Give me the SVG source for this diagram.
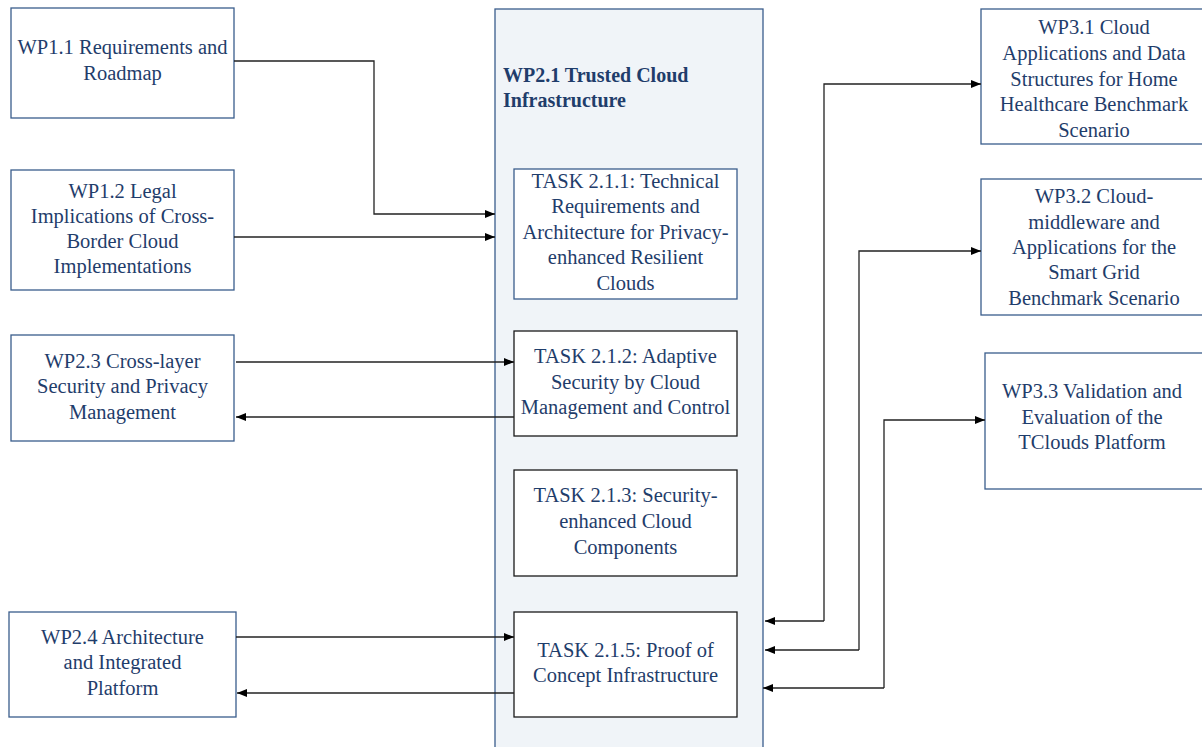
<svg xmlns="http://www.w3.org/2000/svg" width="1202" height="747" viewBox="0 0 1202 747">
<style>
.box{fill:#ffffff;stroke:#3a5d8c;stroke-width:1.3}
.task{fill:#ffffff;stroke:#1a1a1a;stroke-width:1.3}
.t{font-family:"Liberation Serif","Times New Roman",serif;font-size:20.5px;fill:#1f3d6b;text-anchor:middle}
.title{font-family:"Liberation Serif","Times New Roman",serif;font-size:20px;font-weight:bold;fill:#1f3d6b}
.c{fill:none;stroke:#222;stroke-width:1.3}
</style>
<defs>
<marker id="ah" viewBox="0 0 10 8" refX="10" refY="4" markerWidth="10" markerHeight="8" markerUnits="userSpaceOnUse" orient="auto">
<path d="M0,0 L10,4 L0,8 z" fill="#000"/>
</marker>
</defs>
<rect width="1202" height="747" fill="#ffffff"/>
<g id="wp21">
<rect x="495" y="9" width="268" height="750" fill="#f0f4f8" stroke="#3a5d8c" stroke-width="1.3"/>
<text class="title" x="503" y="82">WP2.1 Trusted Cloud</text>
<text class="title" x="503" y="107">Infrastructure</text>
</g>
<g id="wp11">
<rect class="box" x="11" y="8" width="223" height="110"/>
<text class="t" x="122.5" y="54">WP1.1 Requirements and</text>
<text class="t" x="122.5" y="80">Roadmap</text>
</g>
<g id="wp12">
<rect class="box" x="11" y="170" width="223" height="120"/>
<text class="t" x="122.5" y="198">WP1.2 Legal</text>
<text class="t" x="122.5" y="223">Implications of Cross-</text>
<text class="t" x="122.5" y="248">Border Cloud</text>
<text class="t" x="122.5" y="273">Implementations</text>
</g>
<g id="wp23">
<rect class="box" x="11" y="335" width="223" height="106"/>
<text class="t" x="122.5" y="368">WP2.3 Cross-layer</text>
<text class="t" x="122.5" y="393">Security and Privacy</text>
<text class="t" x="122.5" y="419">Management</text>
</g>
<g id="wp24">
<rect class="box" x="9" y="612" width="227" height="105"/>
<text class="t" x="122.5" y="644">WP2.4 Architecture</text>
<text class="t" x="122.5" y="669">and Integrated</text>
<text class="t" x="122.5" y="695">Platform</text>
</g>
<g id="task211">
<rect class="box" x="514" y="169" width="223" height="130"/>
<text class="t" x="625.5" y="188">TASK 2.1.1: Technical</text>
<text class="t" x="625.5" y="213">Requirements and</text>
<text class="t" x="625.5" y="239">Architecture for Privacy-</text>
<text class="t" x="625.5" y="264">enhanced Resilient</text>
<text class="t" x="625.5" y="290">Clouds</text>
</g>
<g id="task212">
<rect class="task" x="514" y="331" width="223" height="105"/>
<text class="t" x="625.5" y="363">TASK 2.1.2: Adaptive</text>
<text class="t" x="625.5" y="389">Security by Cloud</text>
<text class="t" x="625.5" y="414">Management and Control</text>
</g>
<g id="task213">
<rect class="task" x="514" y="470" width="223" height="106"/>
<text class="t" x="625.5" y="502">TASK 2.1.3: Security-</text>
<text class="t" x="625.5" y="528">enhanced Cloud</text>
<text class="t" x="625.5" y="554">Components</text>
</g>
<g id="task215">
<rect class="task" x="514" y="612" width="223" height="105"/>
<text class="t" x="625.5" y="657">TASK 2.1.5: Proof of</text>
<text class="t" x="625.5" y="682">Concept Infrastructure</text>
</g>
<g id="wp31">
<rect class="box" x="981" y="9" width="228" height="135"/>
<text class="t" x="1094" y="34">WP3.1 Cloud</text>
<text class="t" x="1094" y="60">Applications and Data</text>
<text class="t" x="1094" y="86">Structures for Home</text>
<text class="t" x="1094" y="111">Healthcare Benchmark</text>
<text class="t" x="1094" y="137">Scenario</text>
</g>
<g id="wp32">
<rect class="box" x="981" y="179" width="228" height="136"/>
<text class="t" x="1094" y="203">WP3.2 Cloud-</text>
<text class="t" x="1094" y="229">middleware and</text>
<text class="t" x="1094" y="254">Applications for the</text>
<text class="t" x="1094" y="279">Smart Grid</text>
<text class="t" x="1094" y="305">Benchmark Scenario</text>
</g>
<g id="wp33">
<rect class="box" x="985" y="353" width="224" height="136"/>
<text class="t" x="1092" y="398">WP3.3 Validation and</text>
<text class="t" x="1092" y="424">Evaluation of the</text>
<text class="t" x="1092" y="449">TClouds Platform</text>
</g>
<g id="connectors">
<path class="c" d="M234,61 H374 V214 H495" marker-end="url(#ah)"/>
<path class="c" d="M234,237 H495" marker-end="url(#ah)"/>
<path class="c" d="M236,362 H514" marker-end="url(#ah)"/>
<path class="c" d="M514,417 H236" marker-end="url(#ah)"/>
<path class="c" d="M236,637 H514" marker-end="url(#ah)"/>
<path class="c" d="M514,693 H237" marker-end="url(#ah)"/>
<path class="c" d="M824,621 V84 H981" marker-end="url(#ah)"/>
<path class="c" d="M824,621 H765" marker-end="url(#ah)"/>
<path class="c" d="M859,650 V251 H981" marker-end="url(#ah)"/>
<path class="c" d="M859,650 H765" marker-end="url(#ah)"/>
<path class="c" d="M884,688 V420 H985" marker-end="url(#ah)"/>
<path class="c" d="M884,688 H763" marker-end="url(#ah)"/>
</g>
</svg>
